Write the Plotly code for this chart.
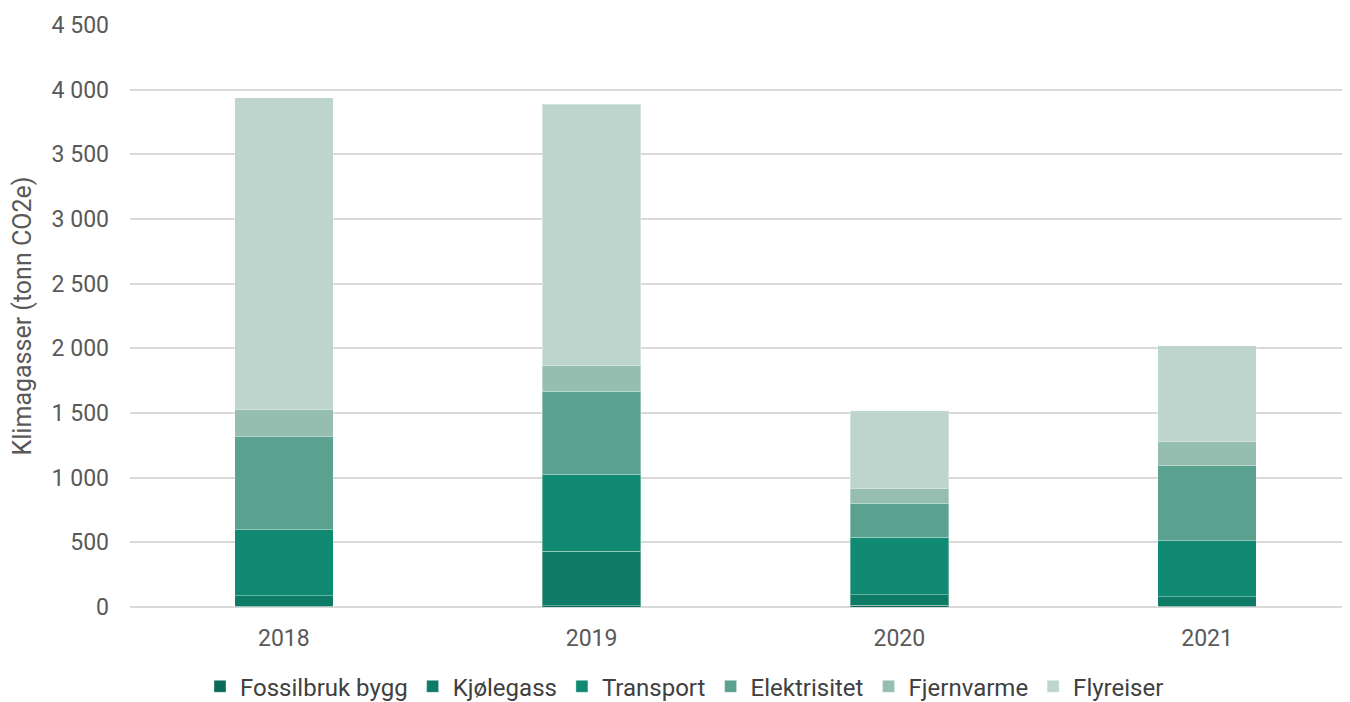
import plotly.graph_objects as go

years = ["2018", "2019", "2020", "2021"]
series = ["Fossilbruk bygg", "Kjølegass", "Transport", "Elektrisitet", "Fjernvarme", "Flyreiser"]
fossilbruk = [5, 10, 15, 5]
kjolegass = [82, 420, 78, 75]
transport = [510, 595, 448, 433]
elektrisitet = [720, 642, 263, 580]
fjernvarme = [209, 201, 116, 186]
flyreiser = [2413, 2018, 596, 742]
colors = ["#0b6b5a", "#0e7b67", "#108a72", "#5aa28f", "#95bdb0", "#bdd5cd"]

values = [fossilbruk, kjolegass, transport, elektrisitet, fjernvarme, flyreiser]
font_family = "Roboto, Liberation Sans, sans-serif"

fig = go.Figure()
for name, vals, col in zip(series, values, colors):
    fig.add_trace(go.Bar(
        x=years, y=vals, name=name,
        marker=dict(color=col, line=dict(color="rgba(255,255,255,0.35)", width=1)),
    ))

# page has an 8px body margin; the plot area runs a little past the right edge like the original
fig.update_layout(
    barmode="stack",
    bargap=0.68,
    width=1353, height=694,
    margin=dict(l=122, r=0, t=17, b=95, autoexpand=False),
    paper_bgcolor="white",
    plot_bgcolor="white",
    separators=", ",
    font=dict(family=font_family, size=23, color="#595959"),
    legend=dict(orientation="h", xref="container", x=0.5, xanchor="center",
                y=-0.137, yanchor="middle",
                traceorder="normal", font=dict(family=font_family, size=24, color="#404040"),
                itemwidth=30, tracegroupgap=0),
    yaxis=dict(range=[0, 4500], dtick=500, tickformat=",d", gridcolor="#d9d9d9", gridwidth=1.5,
               zeroline=True, zerolinecolor="#d9d9d9", zerolinewidth=2, automargin=False,
               ticklabelstandoff=20,
               title=dict(text="Klimagasser (tonn CO2e)", standoff=18,
                          font=dict(family=font_family, size=25, color="#595959")),
               ticks="", ticklen=0),
    xaxis=dict(showline=False, ticks="", automargin=False, ticklabelstandoff=15),
)

fig.write_html("out.html")
